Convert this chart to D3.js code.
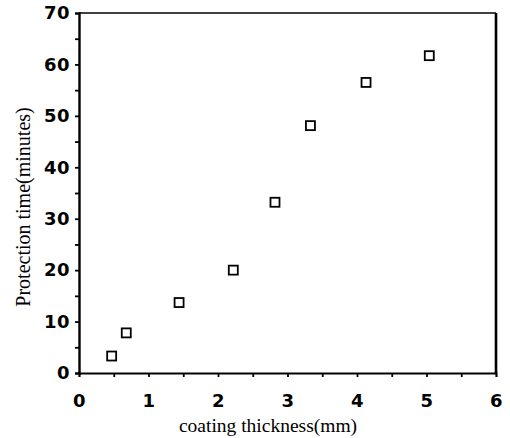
<!DOCTYPE html>
<html>
<head>
<meta charset="utf-8">
<script src="https://cdn.jsdelivr.net/npm/d3@7"></script>
<style>
  body { margin: 0; background: #fff; }
  .tick text { font-family: "DejaVu Sans", sans-serif; font-weight: bold; font-size: 18px; fill: #000; letter-spacing: 0.5px; }
  .title { font-family: "Liberation Serif", "Times New Roman", serif; font-size: 19.5px; fill: #000; }
</style>
</head>
<body>
<svg id="chart" width="510" height="438"></svg>
<script>
'use strict';

// data
const thickness = [0.47, 0.68, 1.44, 2.22, 2.82, 3.33, 4.13, 5.04];
const minutes = [3.3, 7.8, 13.7, 20.0, 33.2, 48.1, 56.5, 61.7];
const xTicks = [0, 1, 2, 3, 4, 5, 6];
const yTicks = [0, 10, 20, 30, 40, 50, 60, 70];

const svg = d3.select('#chart');
const plotL = 79, plotR = 496, plotT = 13, plotB = 373;

const x = d3.scaleLinear().domain([0, 6]).range([plotL, plotR]);
const y = d3.scaleLinear().domain([0, 70]).range([plotB, plotT]);

// frame
svg.append('line').attr('x1', plotL).attr('x2', plotR).attr('y1', plotT).attr('y2', plotT)
	.attr('stroke', '#000').attr('stroke-width', 1.6);
svg.append('line').attr('x1', plotR).attr('x2', plotR).attr('y1', plotT).attr('y2', plotB)
	.attr('stroke', '#000').attr('stroke-width', 2.6);

// bottom axis, minor ticks every 0.5
const xAxis = d3.axisBottom(x).tickValues(d3.range(0.5, 6, 0.5)).tickSize(4).tickFormat('');
svg.append('g').attr('transform', `translate(0,${plotB})`).call(xAxis)
	.call(g => g.select('.domain').attr('stroke-width', 2.2))
	.call(g => g.selectAll('.tick line').attr('stroke-width', 1.8));
svg.append('g').attr('transform', `translate(0,${plotB})`)
	.call(d3.axisBottom(x).tickValues(xTicks).tickSize(0).tickPadding(21).tickFormat(d3.format('d')))
	.call(g => g.select('.domain').remove());

// left axis, ticks every 5
const yAxis = d3.axisLeft(y).tickValues(d3.range(5, 70, 5)).tickSize(4).tickFormat('');
svg.append('g').attr('transform', `translate(${plotL},0)`).call(yAxis)
	.call(g => g.select('.domain').attr('stroke-width', 2.4))
	.call(g => g.selectAll('.tick line').attr('stroke-width', 1.8));
svg.append('g').attr('transform', `translate(${plotL},0)`)
	.call(d3.axisLeft(y).tickValues(yTicks).tickSize(0).tickPadding(9).tickFormat(d3.format('d')))
	.call(g => g.select('.domain').remove());

// points
svg.append('g').selectAll('rect')
	.data(thickness.map((t, i) => ({t, m: minutes[i]})))
	.join('rect')
	.attr('x', d => x(d.t) - 4.5)
	.attr('y', d => y(d.m) - 4.5)
	.attr('width', 9).attr('height', 9)
	.attr('fill', '#fff').attr('stroke', '#000').attr('stroke-width', 1.8);

// titles
svg.append('text').attr('class', 'title')
	.attr('x', 268).attr('y', 432).attr('text-anchor', 'middle')
	.text('coating thickness(mm)');
svg.append('text').attr('class', 'title')
	.attr('transform', 'translate(30,207) rotate(-90)').attr('text-anchor', 'middle')
	.style('font-size', '20px')
	.text('Protection time(minutes)');
</script>
</body>
</html>
